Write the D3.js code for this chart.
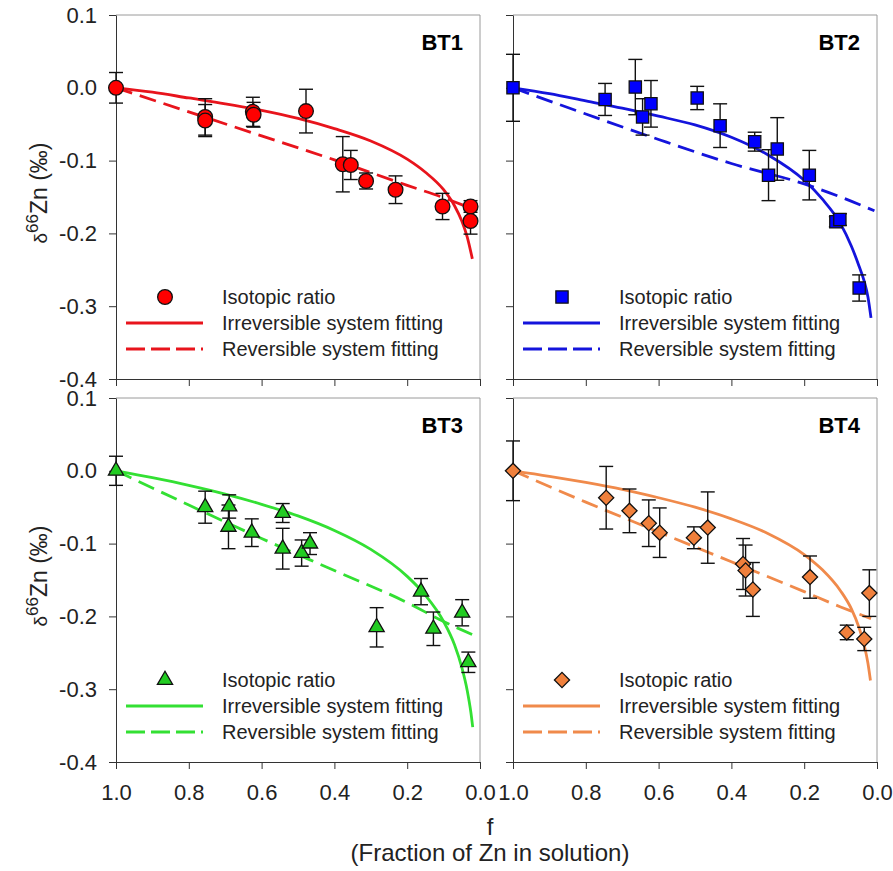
<!DOCTYPE html>
<html>
<head>
<meta charset="utf-8">
<script src="https://cdn.jsdelivr.net/npm/d3@7"></script>
<style>
  body { margin: 0; background: #fff; }
  svg { font-family: "Liberation Sans", Arial, sans-serif; }
</style>
</head>
<body>
<div id="chart"></div>
<script>
// axis ticks
const fTicks = [1.0, 0.8, 0.6, 0.4, 0.2, 0.0];
const deltaTicks = [0.1, 0.0, -0.1, -0.2, -0.3, -0.4];
const legendLabels = ["Isotopic ratio", "Irreversible system fitting", "Reversible system fitting"];

// BT1 measured points (f, delta66Zn, error)
const bt1F   = [1.0, 0.755, 0.755, 0.624, 0.622, 0.478, 0.377, 0.355, 0.313, 0.232, 0.103, 0.026, 0.026];
const bt1D   = [0.000, -0.040, -0.045, -0.033, -0.037, -0.032, -0.105, -0.106, -0.128, -0.140, -0.163, -0.163, -0.183];
const bt1Err = [0.021, 0.025, 0.022, 0.020, 0.017, 0.030, 0.038, 0.020, 0.011, 0.019, 0.018, 0.008, 0.018];
// BT1 fitted curves
const bt1IrrF = [1.0, 0.9, 0.8, 0.7, 0.6, 0.5, 0.4, 0.3, 0.2, 0.15, 0.1, 0.07, 0.05, 0.035, 0.021];
const bt1IrrD = [0, -0.006, -0.014, -0.022, -0.031, -0.042, -0.056, -0.073, -0.098, -0.116, -0.140, -0.162, -0.183, -0.205, -0.235];
const bt1RevF = [1.0, 0.8, 0.6, 0.4, 0.2, 0.1, 0.018];
const bt1RevD = [0, -0.033, -0.066, -0.099, -0.134, -0.151, -0.167];

// BT2
const bt2F   = [1.0, 0.747, 0.664, 0.644, 0.621, 0.494, 0.431, 0.336, 0.298, 0.274, 0.186, 0.113, 0.102, 0.049];
const bt2D   = [0.000, -0.016, 0.001, -0.040, -0.022, -0.014, -0.052, -0.074, -0.120, -0.084, -0.120, -0.184, -0.181, -0.275];
const bt2Err = [0.046, 0.022, 0.038, 0.025, 0.032, 0.016, 0.030, 0.013, 0.035, 0.043, 0.034, 0.007, 0.008, 0.018];
const bt2IrrF = [1.0, 0.9, 0.8, 0.7, 0.6, 0.5, 0.4, 0.3, 0.2, 0.15, 0.1, 0.07, 0.05, 0.035, 0.025, 0.0165];
const bt2IrrD = [0, -0.008, -0.018, -0.028, -0.039, -0.051, -0.068, -0.092, -0.127, -0.153, -0.187, -0.218, -0.244, -0.266, -0.287, -0.316];
const bt2RevF = [1.0, 0.8, 0.6, 0.4, 0.2, 0.1, 0.007];
const bt2RevD = [0, -0.036, -0.071, -0.104, -0.132, -0.150, -0.169];

// BT3
const bt3F   = [1.0, 0.755, 0.689, 0.691, 0.627, 0.542, 0.542, 0.490, 0.467, 0.284, 0.162, 0.128, 0.049, 0.032];
const bt3D   = [0.000, -0.050, -0.049, -0.077, -0.085, -0.058, -0.107, -0.113, -0.100, -0.215, -0.166, -0.217, -0.195, -0.263];
const bt3Err = [0.020, 0.022, 0.016, 0.030, 0.019, 0.013, 0.028, 0.018, 0.015, 0.027, 0.018, 0.023, 0.018, 0.014];
const bt3IrrF = [1.0, 0.9, 0.8, 0.7, 0.6, 0.5, 0.4, 0.3, 0.2, 0.15, 0.1, 0.07, 0.05, 0.035, 0.025, 0.02];
const bt3IrrD = [0, -0.0095, -0.020, -0.032, -0.046, -0.062, -0.082, -0.108, -0.145, -0.171, -0.207, -0.239, -0.270, -0.302, -0.332, -0.352];
const bt3RevF = [1.0, 0.8, 0.6, 0.4, 0.2, 0.1, 0.0165];
const bt3RevD = [0, -0.047, -0.093, -0.137, -0.181, -0.207, -0.226];

// BT4
const bt4F   = [1.0, 0.744, 0.680, 0.627, 0.597, 0.503, 0.465, 0.368, 0.361, 0.341, 0.184, 0.083, 0.035, 0.021];
const bt4D   = [0.000, -0.037, -0.055, -0.072, -0.085, -0.092, -0.078, -0.128, -0.137, -0.163, -0.146, -0.222, -0.231, -0.168];
const bt4Err = [0.041, 0.043, 0.030, 0.032, 0.034, 0.015, 0.049, 0.035, 0.035, 0.037, 0.029, 0.010, 0.016, 0.032];
const bt4IrrF = [1.0, 0.9, 0.8, 0.7, 0.6, 0.5, 0.4, 0.3, 0.2, 0.15, 0.1, 0.07, 0.05, 0.035, 0.025, 0.018];
const bt4IrrD = [0, -0.0075, -0.016, -0.0255, -0.037, -0.050, -0.066, -0.086, -0.115, -0.136, -0.165, -0.190, -0.2145, -0.240, -0.264, -0.288];
const bt4RevF = [1.0, 0.8, 0.6, 0.4, 0.2, 0.1, 0.0165];
const bt4RevD = [0, -0.043, -0.084, -0.125, -0.166, -0.187, -0.203];

const panels = [
  { name: "BT1", col: 0, row: 0, f: bt1F, d: bt1D, err: bt1Err, irr: d3.zip(bt1IrrF, bt1IrrD), rev: d3.zip(bt1RevF, bt1RevD),
    symbol: d3.symbolCircle, size: 170, rotate: 0, fill: "#ff0000", line: "#e8141c" },
  { name: "BT2", col: 1, row: 0, f: bt2F, d: bt2D, err: bt2Err, irr: d3.zip(bt2IrrF, bt2IrrD), rev: d3.zip(bt2RevF, bt2RevD),
    symbol: d3.symbolSquare, size: 150, rotate: 0, fill: "#0000ff", line: "#1414dc" },
  { name: "BT3", col: 0, row: 1, f: bt3F, d: bt3D, err: bt3Err, irr: d3.zip(bt3IrrF, bt3IrrD), rev: d3.zip(bt3RevF, bt3RevD),
    symbol: d3.symbolTriangle, size: 100, rotate: 0, fill: "#22cc22", line: "#33e033" },
  { name: "BT4", col: 1, row: 1, f: bt4F, d: bt4D, err: bt4Err, irr: d3.zip(bt4IrrF, bt4IrrD), rev: d3.zip(bt4RevF, bt4RevD),
    symbol: d3.symbolSquare, size: 115, rotate: 45, fill: "#f0803c", line: "#f08a4b" }
];

const width = 893, height = 871;
const colLeft = [116, 513], rowTop = [15, 398];
const panelW = 364, panelH = 364;

const svg = d3.select("#chart").append("svg")
  .attr("width", width)
  .attr("height", height);

panels.forEach(p => {
  const x0 = colLeft[p.col], y0 = rowTop[p.row];
  const x = d3.scaleLinear().domain([1, 0]).range([x0, x0 + panelW]);
  const y = d3.scaleLinear().domain([0.1, -0.4]).range([y0, y0 + panelH]);
  const g = svg.append("g");

  // light frame on top and right
  g.append("path")
    .attr("d", `M${x(1)},${y(0.1)}H${x(0)}V${y(-0.4)}`)
    .attr("fill", "none")
    .attr("stroke", "#9a9a9a")
    .attr("stroke-width", 1);

  const xAxis = d3.axisBottom(x).tickValues(fTicks).tickSize(7).tickSizeOuter(0).tickPadding(15)
    .tickFormat(p.row === 1 ? d => d.toFixed(1) : () => "");
  const yAxis = d3.axisLeft(y).tickValues(deltaTicks).tickSize(7).tickSizeOuter(0).tickPadding(12)
    .tickFormat(p.col === 0 ? d => d.toFixed(1) : () => "");

  [g.append("g").attr("transform", `translate(0,${y(-0.4)})`).call(xAxis),
   g.append("g").attr("transform", `translate(${x(1)},0)`).call(yAxis)]
    .forEach(a => {
      a.attr("font-family", null).attr("font-size", 22);
      a.selectAll("path, line").attr("stroke", "#333");
      a.selectAll("text").attr("fill", "#222");
    });

  const line = d3.line().x(d => x(d[0])).y(d => y(d[1])).curve(d3.curveMonotoneX);

  g.append("path").datum(p.rev)
    .attr("d", line)
    .attr("fill", "none").attr("stroke", p.line).attr("stroke-width", 2.8)
    .attr("stroke-dasharray", "17,8");
  g.append("path").datum(p.irr)
    .attr("d", line)
    .attr("fill", "none").attr("stroke", p.line).attr("stroke-width", 2.8);

  const pts = p.f.map((f, i) => ({ f, d: p.d[i], e: p.err[i] }));

  // error bars
  const eb = g.append("g").attr("stroke", "#111").attr("stroke-width", 1.4);
  eb.selectAll(".bar").data(pts).join("line")
    .attr("x1", d => x(d.f)).attr("x2", d => x(d.f))
    .attr("y1", d => y(d.d + d.e)).attr("y2", d => y(d.d - d.e));
  eb.selectAll(".capTop").data(pts).join("line")
    .attr("x1", d => x(d.f) - 7).attr("x2", d => x(d.f) + 7)
    .attr("y1", d => y(d.d + d.e)).attr("y2", d => y(d.d + d.e));
  eb.selectAll(".capBot").data(pts).join("line")
    .attr("x1", d => x(d.f) - 7).attr("x2", d => x(d.f) + 7)
    .attr("y1", d => y(d.d - d.e)).attr("y2", d => y(d.d - d.e));

  const sym = d3.symbol().type(p.symbol).size(p.size);
  g.selectAll(".pt").data(pts).join("path")
    .attr("d", sym)
    .attr("transform", d => `translate(${x(d.f)},${y(d.d)}) rotate(${p.rotate})`)
    .attr("fill", p.fill)
    .attr("stroke", "#111")
    .attr("stroke-width", 1.3);

  // panel label
  g.append("text")
    .attr("x", x0 + panelW - 17).attr("y", y0 + 35)
    .attr("text-anchor", "end")
    .attr("font-size", 22).attr("font-weight", "bold")
    .text(p.name);

  // legend
  const lg = g.append("g").attr("transform", `translate(${x0},${y0})`);
  lg.append("path")
    .attr("d", sym)
    .attr("transform", `translate(49,282) rotate(${p.rotate})`)
    .attr("fill", p.fill).attr("stroke", "#111").attr("stroke-width", 1.3);
  lg.append("line").attr("x1", 10).attr("x2", 87).attr("y1", 308).attr("y2", 308)
    .attr("stroke", p.line).attr("stroke-width", 2.8);
  lg.append("line").attr("x1", 10).attr("x2", 87).attr("y1", 334).attr("y2", 334)
    .attr("stroke", p.line).attr("stroke-width", 2.8).attr("stroke-dasharray", "19,6");
  lg.selectAll(".lt").data(legendLabels).join("text")
    .attr("x", 106).attr("y", (d, i) => 282 + i * 26)
    .attr("dy", "0.35em")
    .attr("font-size", 20).attr("fill", "#222")
    .text(d => d);

  // y-axis title on the left column
  if (p.col === 0) {
    const t = svg.append("text")
      .attr("transform", `translate(47,${y0 + panelH / 2 - 4}) rotate(-90)`)
      .attr("text-anchor", "middle")
      .attr("font-size", 23).attr("fill", "#222");
    t.append("tspan").attr("font-size", 19).text("δ");
    t.append("tspan").attr("font-size", 17).attr("dy", -9).text("66");
    t.append("tspan").attr("dy", 9).text("Zn (‰)");
  }
});

// x-axis title
svg.append("text")
  .attr("x", 490).attr("y", 835)
  .attr("text-anchor", "middle").attr("font-size", 24).attr("fill", "#222")
  .text("f");
svg.append("text")
  .attr("x", 490).attr("y", 861)
  .attr("text-anchor", "middle").attr("font-size", 24).attr("fill", "#222")
  .text("(Fraction of Zn in solution)");
</script>
</body>
</html>
